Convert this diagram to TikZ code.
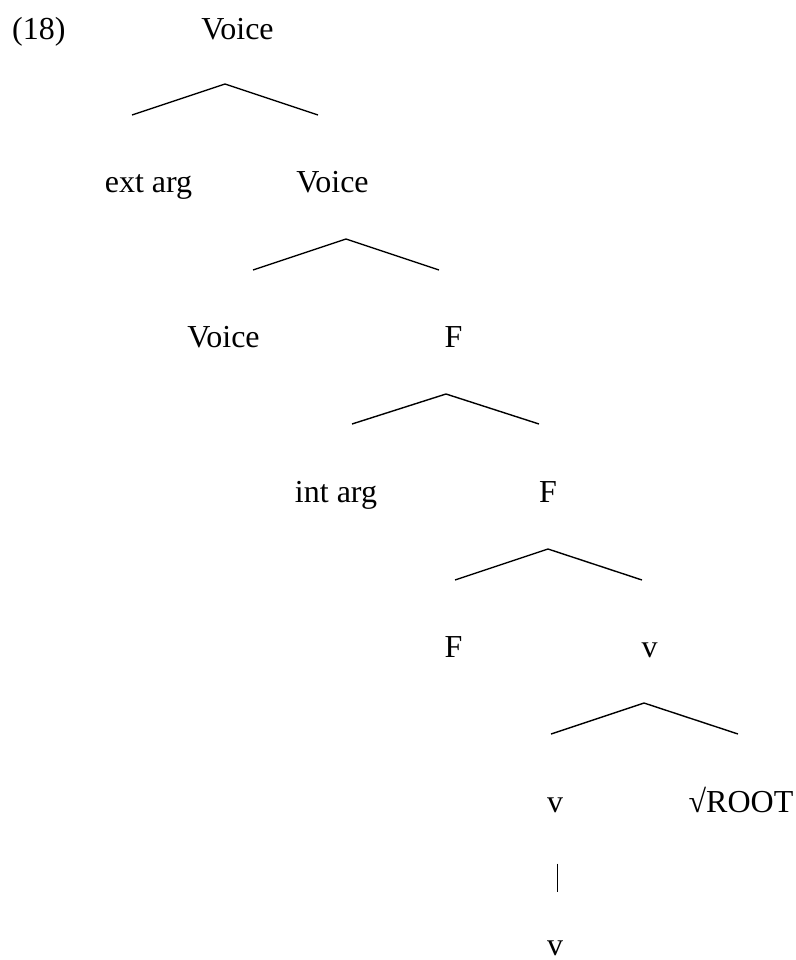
\documentclass[tikz,border=0pt]{standalone}
\usepackage{fontspec}
\setmainfont{Liberation Serif}
\begin{document}
\begin{tikzpicture}[x=1pt,y=-1pt,
  lbl/.style={inner sep=0pt, anchor=base, font=\fontsize{32}{37}\selectfont},
  branch/.style={line width=1.4pt, line join=miter}]
\useasboundingbox (0,0) rectangle (795,960);
% labels
\node[lbl, anchor=base west] (ex) at (12,40) {(18)};
\node[lbl] (r1) at (237.5,40) {Voice};
\node[lbl] (ext) at (148.5,193) {ext arg};
\node[lbl] (r2) at (332.5,193) {Voice};
\node[lbl] (voi) at (223.5,347) {Voice};
\node[lbl] (r3) at (453.5,347) {F};
\node[lbl] (int) at (336,502) {int arg};
\node[lbl] (r4) at (548,502) {F};
\node[lbl] (f) at (453.5,657) {F};
\node[lbl] (r5) at (649.5,657) {v};
\node[lbl] (v6) at (555,812) {v};
\node[lbl] (root) at (741,812) {√ROOT};
\node[lbl] (v7) at (555,955) {v};
% branch points
\coordinate (a1) at (225,84);  \coordinate (l1) at (132,115); \coordinate (e1) at (318,115);
\coordinate (a2) at (346,239); \coordinate (l2) at (253,270); \coordinate (e2) at (439,270);
\coordinate (a3) at (446,394); \coordinate (l3) at (352,424); \coordinate (e3) at (539,424);
\coordinate (a4) at (548,549); \coordinate (l4) at (455,580); \coordinate (e4) at (642,580);
\coordinate (a5) at (644,703); \coordinate (l5) at (551,734); \coordinate (e5) at (738,734);
\draw[branch] (l1) -- (a1) -- (e1);
\draw[branch] (l2) -- (a2) -- (e2);
\draw[branch] (l3) -- (a3) -- (e3);
\draw[branch] (l4) -- (a4) -- (e4);
\draw[branch] (l5) -- (a5) -- (e5);
\draw[line width=1.3pt, shorten <=51pt, shorten >=48pt] ([xshift=2.5pt]v6.south) -- ([xshift=2.5pt]v7.north);
\end{tikzpicture}
\end{document}
